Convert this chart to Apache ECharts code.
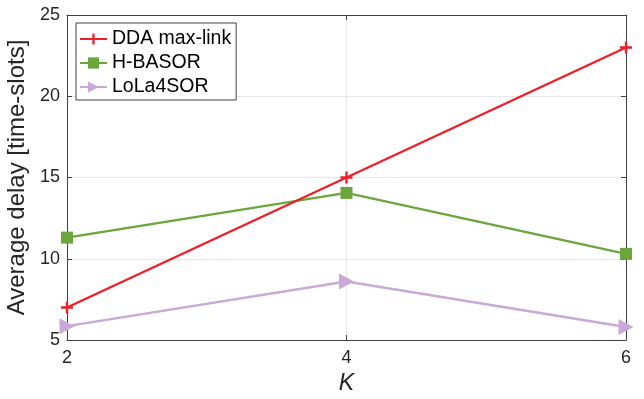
<!DOCTYPE html>
<html>
<head>
<meta charset="utf-8">
<script src="https://cdn.jsdelivr.net/npm/echarts@6/dist/echarts.min.js"></script>
<style>html,body{margin:0;padding:0;background:#fff}#c{width:644px;height:399px}</style>
</head>
<body>
<div id="c"></div>
<script>
const kValues = [2, 4, 6];
const ddaMaxLink = [7, 15, 23];
const hBasor = [11.3, 14.05, 10.3];
const lola4sor = [5.85, 8.6, 5.8];
const xTicks = [2, 4, 6];
const yTicks = [5, 10, 15, 20, 25];
const seriesNames = ['DDA max-link', 'H-BASOR', 'LoLa4SOR'];

const font = '"Liberation Sans", Arial, Helvetica, sans-serif';
const axisColor = '#404040';
const textColor = '#262626';
const gridColor = '#e8e8e8';

function pairs(vals) { return kValues.map((k, i) => [k, vals[i]]); }

const crossPath = 'path://M4,0H6V4H10V6H6V10H4V6H0V4H4Z';
const triRightPath = 'path://M0,0L10,5L0,10Z';

const chart = echarts.init(document.getElementById('c'), null, {renderer: 'canvas'});
const baseX = {
  type: 'value', min: 2, max: 6, interval: 2,
  axisLine: {show: true, onZero: false, lineStyle: {color: axisColor, width: 1}},
  axisTick: {show: true, inside: true, length: 5, lineStyle: {color: axisColor}},
  splitLine: {show: false}
};
const baseY = {
  type: 'value', min: 5, max: 25, interval: 5,
  axisLine: {show: true, onZero: false, lineStyle: {color: axisColor, width: 1}},
  axisTick: {show: true, inside: true, length: 5, lineStyle: {color: axisColor}},
  splitLine: {show: false}
};
chart.setOption({
  backgroundColor: '#fff',
  animation: false,
  grid: {left: 67, right: 18, top: 15, bottom: 59, containLabel: false, outerBoundsMode: 'none'},
  legend: {
    data: seriesNames,
    orient: 'vertical',
    left: 76, top: 23,
    padding: [6, 5, 3, 3],
    itemWidth: 27, itemHeight: 14, itemGap: 4,
    backgroundColor: '#fff',
    borderColor: axisColor, borderWidth: 1,
    textStyle: {fontFamily: font, fontSize: 19.5, lineHeight: 20, color: '#000'}
  },
  xAxis: [
    Object.assign({}, baseX, {
      position: 'bottom',
      axisLabel: {show: true, margin: 9, fontFamily: font, fontSize: 18, color: textColor,
        formatter: v => xTicks.includes(v) ? String(v) : ''},
      splitLine: {show: true, lineStyle: {color: gridColor, width: 1}},
      name: 'K', nameLocation: 'middle', nameGap: 32,
      nameTextStyle: {fontFamily: font, fontSize: 23, fontStyle: 'italic', color: textColor}
    }),
    Object.assign({}, baseX, {position: 'top', axisLabel: {show: false}})
  ],
  yAxis: [
    Object.assign({}, baseY, {
      position: 'left',
      axisLabel: {show: true, margin: 7, fontFamily: font, fontSize: 18, color: textColor,
        formatter: v => yTicks.includes(v) ? String(v) : ''},
      splitLine: {show: true, lineStyle: {color: gridColor, width: 1}},
      name: 'Average delay [time-slots]', nameLocation: 'middle', nameGap: 21,
      nameTextStyle: {fontFamily: font, fontSize: 24, color: textColor}
    }),
    Object.assign({}, baseY, {position: 'right', axisLabel: {show: false}})
  ],
  series: [
    {
      name: seriesNames[0], type: 'line', data: pairs(ddaMaxLink),
      xAxisIndex: 0, yAxisIndex: 0,
      symbol: crossPath, symbolSize: 12, showAllSymbol: true,
      lineStyle: {color: '#ee1f28', width: 2.4},
      itemStyle: {color: '#ee1f28'}, z: 4
    },
    {
      name: seriesNames[1], type: 'line', data: pairs(hBasor),
      xAxisIndex: 0, yAxisIndex: 0,
      symbol: 'rect', symbolSize: 12,
      lineStyle: {color: '#6aa63b', width: 2.2},
      itemStyle: {color: '#6aa63b'}, z: 3
    },
    {
      name: seriesNames[2], type: 'line', data: pairs(lola4sor),
      xAxisIndex: 0, yAxisIndex: 0,
      symbol: triRightPath, symbolSize: [15, 16],
      lineStyle: {color: '#c8a9d7', width: 2.4},
      itemStyle: {color: '#c8a9d7'}, z: 2
    }
  ]
});
</script>
</body>
</html>
